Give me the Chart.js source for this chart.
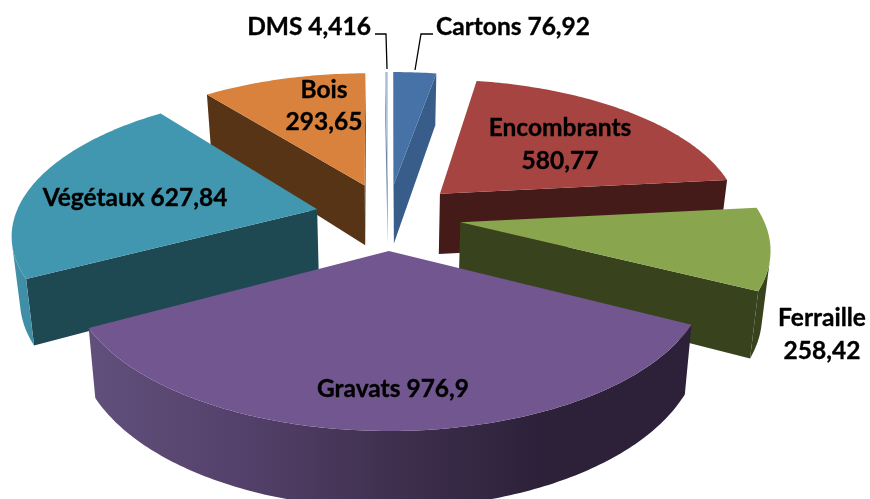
<!DOCTYPE html>
<html>
<head>
<meta charset="utf-8">
<script src="https://cdn.jsdelivr.net/npm/chart.js@4/dist/chart.umd.min.js"></script>
<style>
html,body{margin:0;padding:0;background:#fff;overflow:hidden}
canvas{display:block}
</style>
</head>
<body>
<canvas id="pie" width="870" height="499"></canvas>
<script>
// --- Data ---
const categories = ["Cartons","Encombrants","Ferraille","Gravats","Végétaux","Bois","DMS"];
const tonnages = [76.92,580.77,258.42,976.9,627.84,293.65,4.416];

// --- Colours ---
const topColors = ["#4672a8","#a64441","#89a54e","#725690","#4197b0","#d9823d","#a9bedb"];
const faceColors = ["#385d8a","#451b1a","#38431d","#2c2139","#1e4852","#583417","#6d85a6"];
const rimColors = [
    ["#385d8a","#385d8a"],
    ["#451b1a","#451b1a"],
    ["#38431d","#38431d"],
    ["#61507c","#54416b","#40304f","#2c2139","#2c2139"],
    ["#4190a8","#3a8299"],
    ["#583417","#583417"],
    ["#6d85a6","#6d85a6"]
];

// --- Label layout ---
const labelSpots = [
    {lines:1, x:513, y:[27]},
    {lines:2, x:560, y:[128,161]},
    {lines:2, x:822, y:[318,351]},
    {lines:1, x:393, y:[389]},
    {lines:1, x:135, y:[198]},
    {lines:2, x:324, y:[90,122]},
    {lines:1, x:309, y:[27]}
];
const leaderLines = [
    [[433,34],[421,34],[415,70]],
    [[375,34],[386,34],[387,69]]
];

// --- Fake 3D projection ---
const TILT = 0.46, PERSP = 0.000527, DEPTH = 62, CONVERGE = 0.022;

function project(cx,cy,u,v,down){
    const s = 1/(1-PERSP*v);
    const shrink = down ? 1-CONVERGE : 1;
    return {x:cx+u*s*shrink, y:cy+TILT*v*s+(down?DEPTH*s:0)};
}

function quadArea(q){
    let sum = 0;
    for(let i=0;i<q.length;i++){
        const a = q[i], b = q[(i+1)%q.length];
        sum += a.x*b.y-b.x*a.y;
    }
    return sum/2;
}

function fillPoly(ctx,pts,style){
    ctx.beginPath();
    pts.forEach((p,i)=> i ? ctx.lineTo(p.x,p.y) : ctx.moveTo(p.x,p.y));
    ctx.closePath();
    ctx.fillStyle = style;
    ctx.fill();
}

function drawSlice(ctx,arc,i){
    const {x:cx,y:cy,startAngle,endAngle,outerRadius:r} = arc;
    const mid = (startAngle+endAngle)/2;
    const off = arc.options.offset;
    const ou = Math.cos(mid)*off, ov = Math.sin(mid)*off;

    const rimPts = [];
    const steps = Math.max(2,Math.ceil((endAngle-startAngle)/0.015));
    for(let k=0;k<=steps;k++){
        const t = startAngle+(endAngle-startAngle)*k/steps;
        rimPts.push([ou+r*Math.cos(t),ov+r*Math.sin(t)]);
    }
    const topPt = p => project(cx,cy,p[0],p[1],false);
    const lowPt = p => project(cx,cy,p[0],p[1],true);
    const apex = [ou,ov];
    const facing = (p,q)=> quadArea([topPt(p),topPt(q),lowPt(q),lowPt(p)])<0;

    // cut faces
    [[apex,rimPts[0]],[rimPts[steps],apex]].forEach(([p,q])=>{
        if(facing(p,q)) fillPoly(ctx,[topPt(p),topPt(q),lowPt(q),lowPt(p)],faceColors[i]);
    });

    // outer rim, one polygon over the steps that face the viewer
    const shown = [];
    for(let k=0;k<=steps;k++){
        if((k<steps && facing(rimPts[k],rimPts[k+1])) || (k>0 && facing(rimPts[k-1],rimPts[k]))) shown.push(rimPts[k]);
    }
    if(shown.length>1){
        const xs = rimPts.map(p=>topPt(p).x);
        const grad = ctx.createLinearGradient(Math.min(...xs),0,Math.max(...xs),0);
        rimColors[i].forEach((c,n,all)=>grad.addColorStop(n/(all.length-1),c));
        fillPoly(ctx,[...shown.map(topPt),...shown.slice().reverse().map(lowPt)],grad);
    }

    // top
    fillPoly(ctx,[topPt(apex),...rimPts.map(topPt)],topColors[i]);
}

const pie3d = {
    id:"pie3d",
    beforeDatasetDraw(chart,args){
        const ctx = chart.ctx;
        const arcs = args.meta.data.map((arc,i)=>({arc,i}));
        arcs.sort((a,b)=>Math.sin((a.arc.startAngle+a.arc.endAngle)/2)-Math.sin((b.arc.startAngle+b.arc.endAngle)/2));
        ctx.save();
        arcs.forEach(o=>drawSlice(ctx,o.arc,o.i));
        ctx.restore();
        return false;
    },
    afterDatasetsDraw(chart){
        const ctx = chart.ctx;
        ctx.save();
        ctx.strokeStyle = "#000";
        ctx.lineWidth = 1.3;
        leaderLines.forEach(line=>{
            ctx.beginPath();
            line.forEach((p,i)=> i ? ctx.lineTo(p[0],p[1]) : ctx.moveTo(p[0],p[1]));
            ctx.stroke();
        });
        ctx.fillStyle = "#000";
        ctx.strokeStyle = "#000";
        ctx.lineWidth = 0.35;
        ctx.lineJoin = "round";
        ctx.font = "bold 24.5px Lato";
        ctx.textAlign = "center";
        ctx.textBaseline = "middle";
        const put = (text,x,y)=>{ ctx.fillText(text,x,y); ctx.strokeText(text,x,y); };
        categories.forEach((name,i)=>{
            const value = String(tonnages[i]).replace(".",",");
            const spot = labelSpots[i];
            if(spot.lines===2){
                put(name,spot.x,spot.y[0]);
                put(value,spot.x,spot.y[1]);
            } else {
                put(name+" "+value,spot.x,spot.y[0]);
            }
        });
        ctx.restore();
    }
};

new Chart(document.getElementById("pie"),{
    type:"pie",
    data:{
        labels:categories,
        datasets:[{data:tonnages, backgroundColor:topColors, borderWidth:0, offset:73}]
    },
    options:{
        responsive:false,
        animation:false,
        radius:302,
        layout:{padding:{left:0,top:0,right:94,bottom:67}},
        plugins:{legend:{display:false}, tooltip:{enabled:false}}
    },
    plugins:[pie3d]
});
</script>
</body>
</html>
